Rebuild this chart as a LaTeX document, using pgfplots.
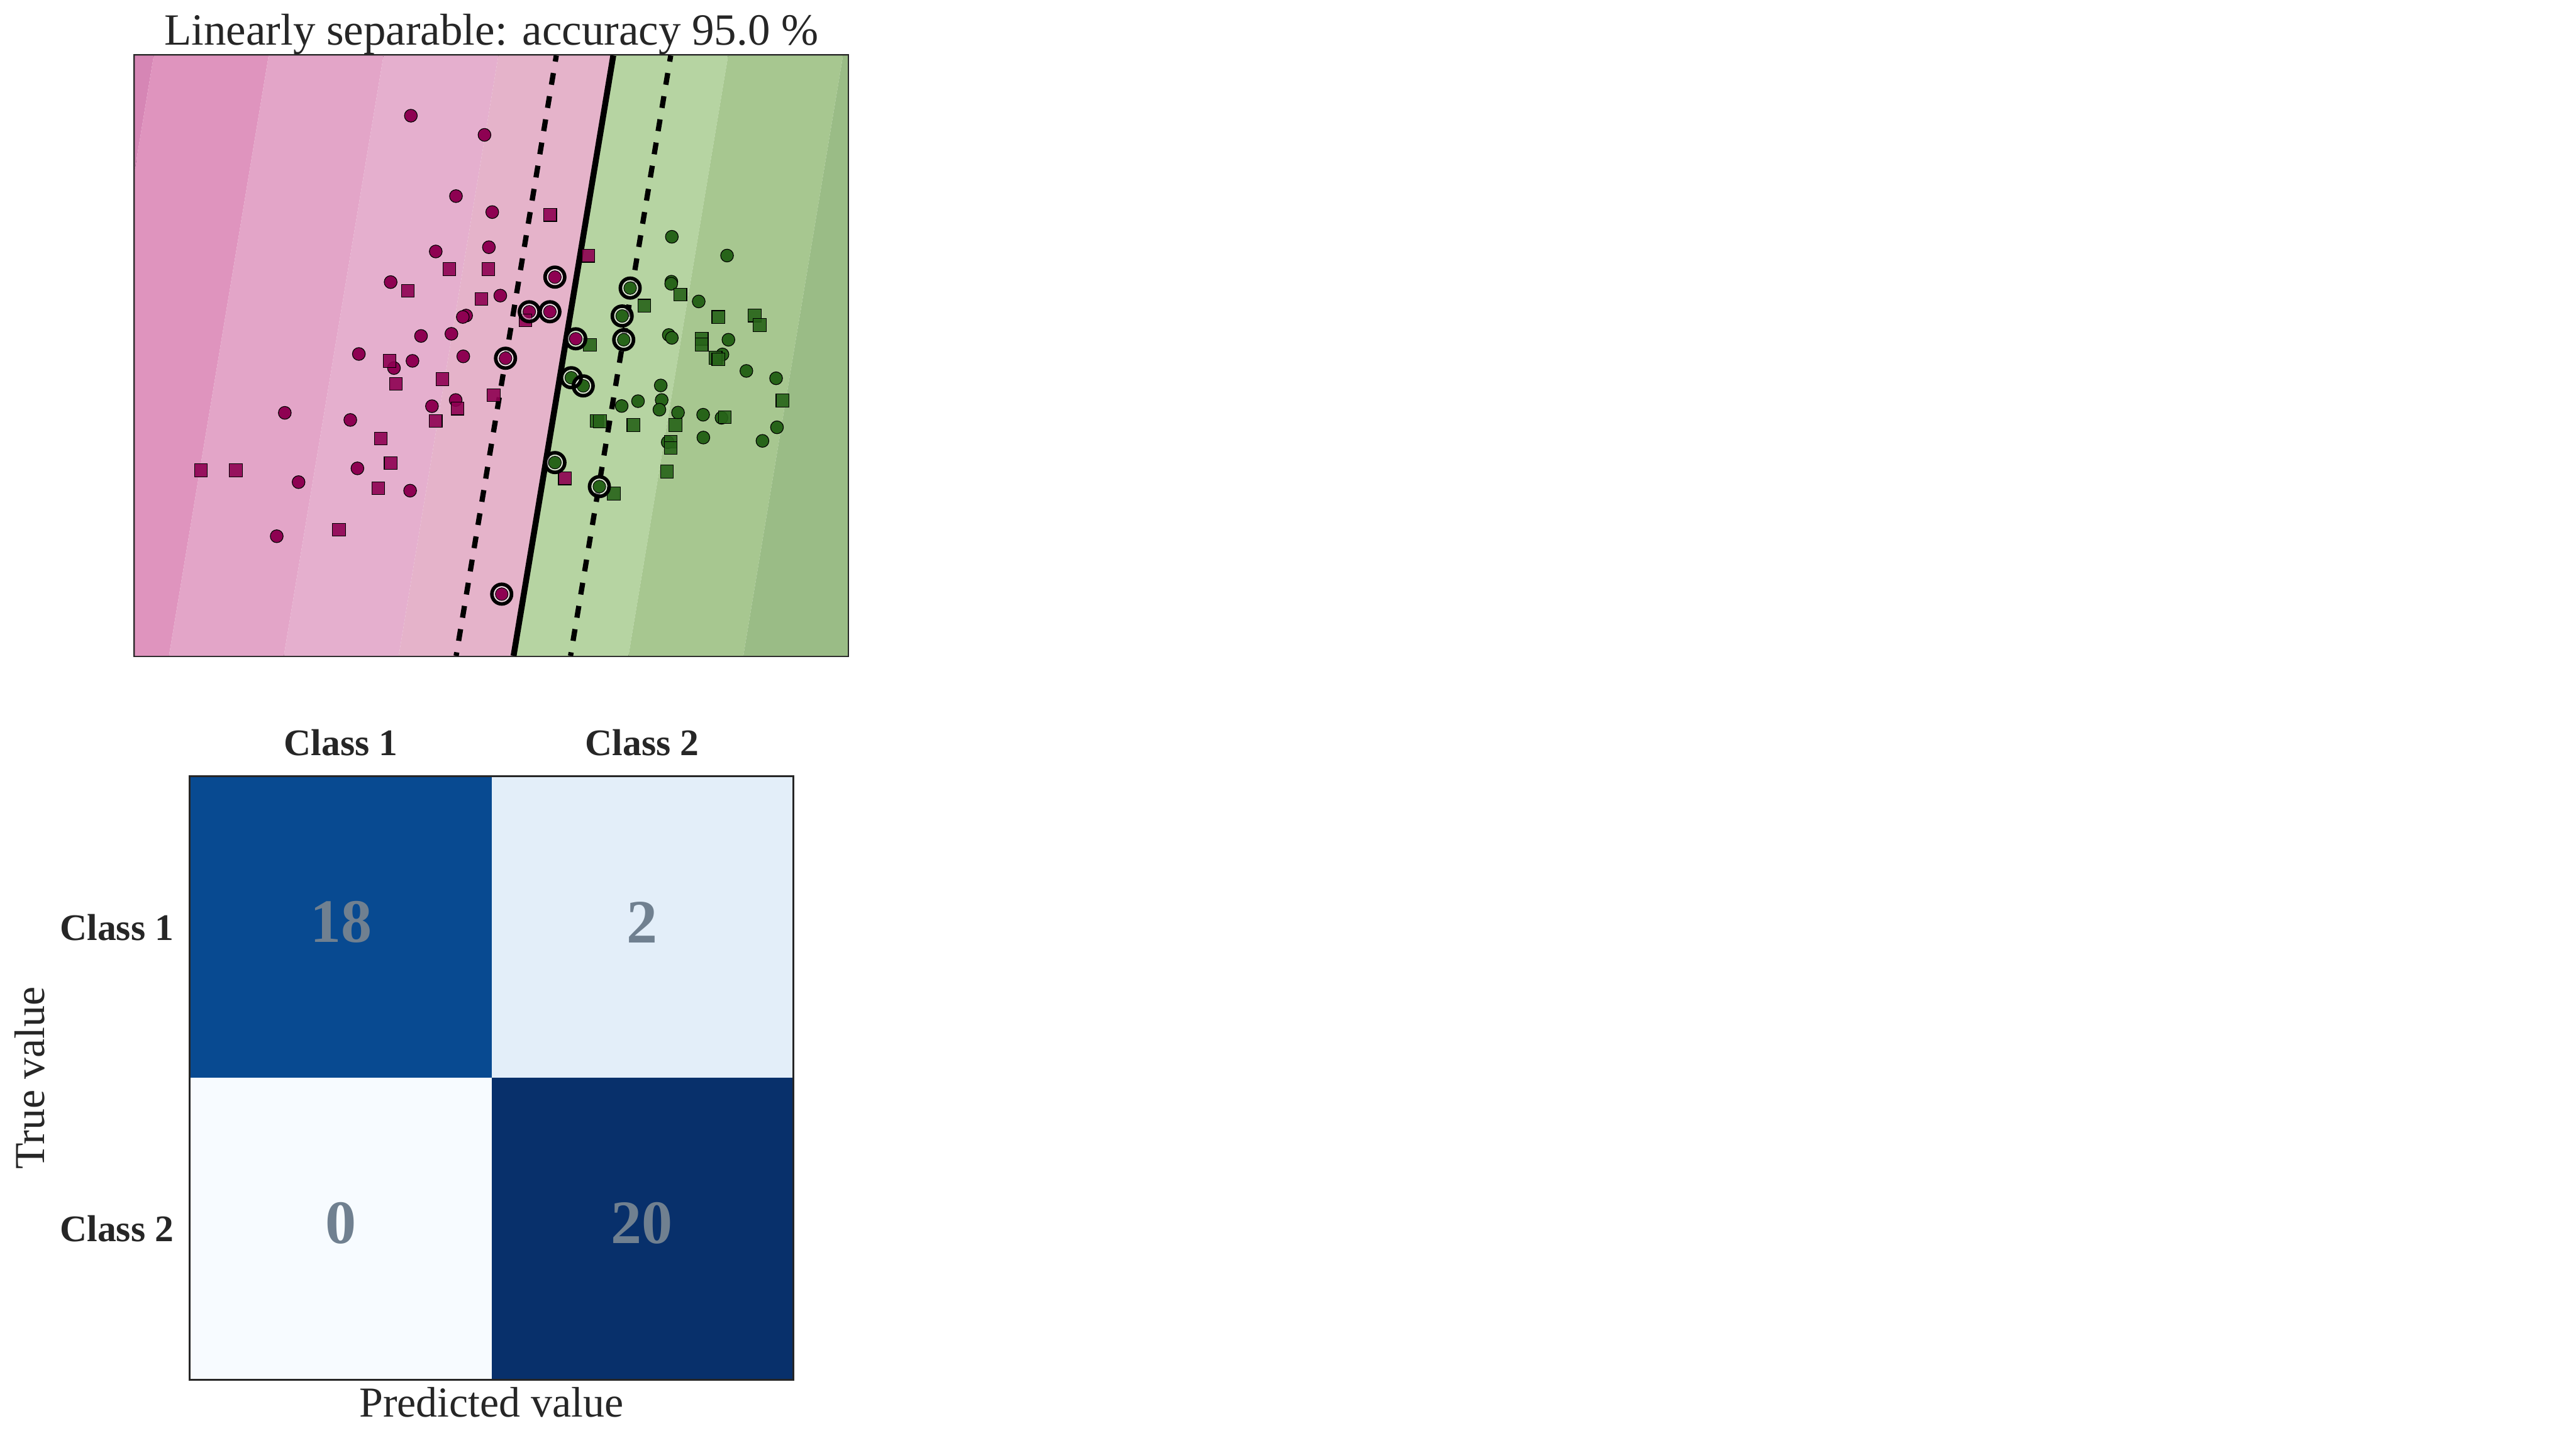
\documentclass[border=0pt]{standalone}
\usepackage{fontspec}
\setmainfont{Liberation Serif}
\usepackage{pgfplots}
\pgfplotsset{compat=1.18}
\definecolor{band0}{HTML}{D686B5}
\definecolor{band1}{HTML}{DF94BE}
\definecolor{band2}{HTML}{E3A5C8}
\definecolor{band3}{HTML}{E5AFCE}
\definecolor{band4}{HTML}{E5B3CA}
\definecolor{band5}{HTML}{B6D4A2}
\definecolor{band6}{HTML}{A7C790}
\definecolor{band7}{HTML}{9ABC86}
\definecolor{cmag}{HTML}{8E0152}
\definecolor{cgrn}{HTML}{276419}
\definecolor{frame}{HTML}{262626}
\definecolor{cellA}{HTML}{084A91}
\definecolor{cellB}{HTML}{E3EEF9}
\definecolor{cellC}{HTML}{F7FBFF}
\definecolor{cellD}{HTML}{08306B}
\definecolor{numcol}{HTML}{708090}
\begin{document}
\begin{tikzpicture}
\fill[white] (0,0) rectangle (542.7pt,304pt);
\path[use as bounding box] (0,0) rectangle (542.7pt,304pt);
% ---------------- scatter / decision function ----------------
\begin{axis}[
  at={(28.4pt,165.8pt)}, anchor=south west,
  width=150.2pt, height=126.5pt, scale only axis,
  xmin=284, xmax=1786, ymin=117, ymax=1382, y dir=reverse,
  xtick=\empty, ytick=\empty,
  axis line style={draw=frame, line width=0.6pt},
  every axis title shift=0pt,
  title={Linearly separable: accuracy 95.0 \%},
  title style={at={(0.5,1)}, anchor=base, yshift=2.2pt, font=\fontsize{9.4}{10}\selectfont, text=frame},
]
\addplot[fill=band0, draw=none] coordinates {(0,117) (324,117) (114,1382) (0,1382)} -- cycle;
\addplot[fill=band1, draw=none] coordinates {(324,117) (566,117) (356,1382) (114,1382)} -- cycle;
\addplot[fill=band2, draw=none] coordinates {(566,117) (808,117) (598,1382) (356,1382)} -- cycle;
\addplot[fill=band3, draw=none] coordinates {(808,117) (1050,117) (840,1382) (598,1382)} -- cycle;
\addplot[fill=band4, draw=none] coordinates {(1050,117) (1292,117) (1082,1382) (840,1382)} -- cycle;
\addplot[fill=band5, draw=none] coordinates {(1292,117) (1534,117) (1324,1382) (1082,1382)} -- cycle;
\addplot[fill=band6, draw=none] coordinates {(1534,117) (1776,117) (1566,1382) (1324,1382)} -- cycle;
\addplot[fill=band7, draw=none] coordinates {(1776,117) (2100,117) (2100,1382) (1566,1382)} -- cycle;
% class 1 circles
\addplot[only marks, mark=*, mark size=1.35pt, mark options={fill=cmag, draw=black, line width=0.15pt}] coordinates {
(865.6,243.9) (1020.7,284.3) (960.6,413.3) (1037,447) (1030,521) (918,530) (823,594.5) (982,665) (975,668) (887,708) (951,703.5) (756,746) (869,760.5) (976,751) (830,775.6) (960,843) (910,856) (600,870) (738,885) (753,987) (629,1016) (864,1034) (583,1130) (1054,623)
(1169,584) (1115,657) (1158.5,657) (1213,714) (1065,755) (1057,1252)
};
% class 1 squares
\addplot[only marks, mark=square*, mark size=1.35pt, mark options={fill=cmag, draw=black, line width=0.15pt, fill opacity=0.9}] coordinates {
(946.5,567) (1028.5,567) (859,613) (1014,630) (821,760.5) (932,799) (834,809) (1040,833) (964,861) (918,887) (802.5,924) (823,976) (423.5,991) (497,991) (797,1029) (714,1116) (1159,453) (1239,539) (1107,675) (1190,1008)
};
% class 2 circles
\addplot[only marks, mark=*, mark size=1.35pt, mark options={fill=cgrn, draw=black, line width=0.15pt}] coordinates {
(1415.4,499) (1531.7,538.6) (1414.4,593.7) (1414,598) (1472,635.3) (1409,706) (1415.4,712) (1534.6,716) (1522,747) (1392,812.3) (1572.4,781.7) (1635,797.2) (1309.7,855.6) (1344.1,845.4) (1394,843) (1389.2,863.4) (1428.4,869.5) (1481.3,874) (1520,880.5) (1636.9,900.5) (1481.8,922.1) (1606.3,929.1) (1406.6,932)
(1327.6,607.1) (1310.7,665.9) (1314,716) (1203.5,796) (1228.7,813.2) (1169.1,974.8) (1262.7,1025.4)
};
% class 2 squares
\addplot[only marks, mark=square*, mark size=1.35pt, mark options={fill=cgrn, draw=black, line width=0.15pt, fill opacity=0.9}] coordinates {
(1433.3,621) (1357.7,644.3) (1513.3,668) (1589.9,665) (1600.5,685.1) (1242.8,727) (1478.4,714) (1478.4,726) (1507.5,754) (1513.3,757.2) (1648.5,844.2) (1527.3,879.3) (1257.3,887) (1264.1,887.9) (1334.4,895.6) (1423.1,895.6) (1413,930.7) (1413,944.2) (1405.2,993.6) (1293.2,1040.1)
};
% support vectors
\addplot[only marks, mark=o, mark size=1.56pt, mark options={draw=white, line width=0.3pt, opacity=0.5}] coordinates {
(1169,584) (1115,657) (1158.5,657) (1213,714) (1065,755) (1057,1252)
(1327.6,607.1) (1310.7,665.9) (1314,716) (1203.5,796) (1228.7,813.2) (1169.1,974.8) (1262.7,1025.4)
};
\addplot[only marks, mark=o, mark size=2.07pt, mark options={draw=black, line width=0.75pt}] coordinates {
(1169,584) (1115,657) (1158.5,657) (1213,714) (1065,755) (1057,1252)
(1327.6,607.1) (1310.7,665.9) (1314,716) (1203.5,796) (1228.7,813.2) (1169.1,974.8) (1262.7,1025.4)
};
% decision boundary and margins
\addplot[black, line width=1.25pt] coordinates {(1292,117) (1082,1382)};
\addplot[black, line width=1.1pt, dash pattern=on 2.5pt off 2.45pt, dash phase=1.2pt] coordinates {(1172,117) (961,1382)};
\addplot[black, line width=1.1pt, dash pattern=on 2.5pt off 2.45pt, dash phase=1.2pt] coordinates {(1413,117) (1202,1382)};
\end{axis}
% ---------------- confusion matrix ----------------
\begin{axis}[
  at={(40.1pt,13.4pt)}, anchor=south west,
  width=126.9pt, height=126.9pt, scale only axis,
  xmin=-0.5, xmax=1.5, ymin=-0.5, ymax=1.5, y dir=reverse,
  xtick={0,1}, xticklabels={Class 1, Class 2},
  ytick={0,1}, yticklabels={Class 1, Class 2},
  xticklabel pos=upper,
  major tick length=0pt,
  axis line style={draw=frame, line width=0.6pt},
  ticklabel style={font=\fontsize{7.9}{9}\selectfont\bfseries, text=frame},
  xticklabel style={anchor=base, yshift=4.5pt},
  xlabel={Predicted value},
  xlabel style={at={(axis description cs:0.5,0)}, anchor=base, yshift=-8pt, font=\fontsize{9}{10}\selectfont, text=frame},
  ylabel={True value},
  ylabel style={at={(axis description cs:-0.2419,0.5)}, anchor=base, rotate=0, font=\fontsize{9}{10}\selectfont, text=frame},
  clip=false,
]
\addplot[fill=cellA, draw=none] coordinates {(-0.5,-0.5) (0.5,-0.5) (0.5,0.5) (-0.5,0.5)} -- cycle;
\addplot[fill=cellB, draw=none] coordinates {(0.5,-0.5) (1.5,-0.5) (1.5,0.5) (0.5,0.5)} -- cycle;
\addplot[fill=cellC, draw=none] coordinates {(-0.5,0.5) (0.5,0.5) (0.5,1.5) (-0.5,1.5)} -- cycle;
\addplot[fill=cellD, draw=none] coordinates {(0.5,0.5) (1.5,0.5) (1.5,1.5) (0.5,1.5)} -- cycle;
\addplot[only marks, mark=none, nodes near coords, point meta=explicit symbolic,
  every node near coord/.style={anchor=center, yshift=1.1pt, font=\fontsize{13}{14}\selectfont\bfseries, text=numcol}]
  coordinates {(0,0)[18] (1,0)[2] (0,1)[0] (1,1)[20]};
\end{axis}
\end{tikzpicture}
\end{document}
